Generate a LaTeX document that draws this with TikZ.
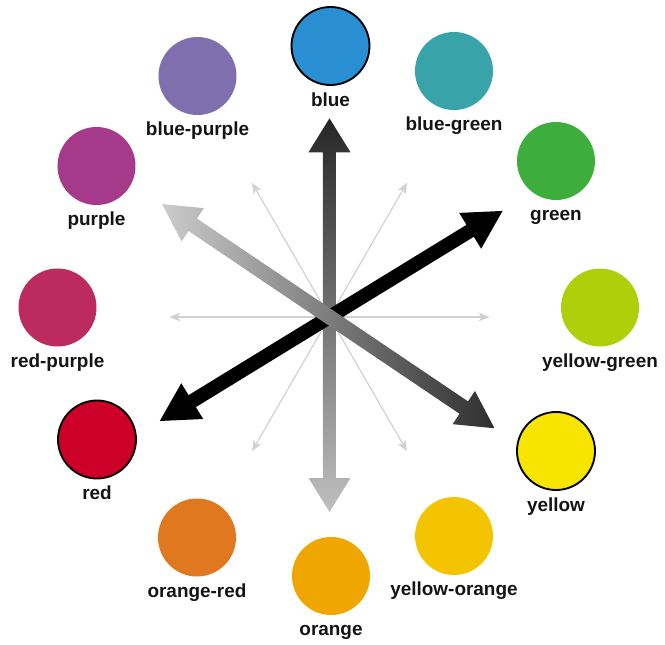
\documentclass[tikz,border=0pt]{standalone}
\usepackage{fontspec}
\setmainfont{Liberation Sans}
\usepackage{tikz}
\usetikzlibrary{arrows.meta, positioning, calc}
\definecolor{wheelblue}{RGB}{41, 143, 210}
\definecolor{wheelbluegreen}{RGB}{56, 164, 170}
\definecolor{wheelgreen}{RGB}{61, 174, 60}
\definecolor{wheelyellowgreen}{RGB}{174, 207, 10}
\definecolor{wheelyellow}{RGB}{247, 229, 0}
\definecolor{wheelyelloworange}{RGB}{245, 196, 0}
\definecolor{wheelorange}{RGB}{240, 166, 0}
\definecolor{wheelorangered}{RGB}{224, 120, 32}
\definecolor{wheelred}{RGB}{204, 0, 40}
\definecolor{wheelredpurple}{RGB}{188, 43, 94}
\definecolor{wheelpurple}{RGB}{165, 58, 138}
\definecolor{wheelbluepurple}{RGB}{127, 111, 174}

\begin{document}
\begin{tikzpicture}[
  x=0.75pt, y=0.75pt, font=\fontsize{14.2}{17}\selectfont\bfseries,
  swatch/.style={circle, minimum size=58.5pt, inner sep=0pt},
  primary/.style={swatch, draw=black, line width=1.4pt},
  colorname/.style={below=4.5pt of #1, inner sep=0pt, text height=10.5pt, text depth=3pt, text=black!92},
  spoke/.style={draw=black!18, line width=0.9pt},
  >={Stealth[length=8pt, width=6.5pt, inset=2pt]}
]
\useasboundingbox (-329.5,-327) rectangle (335.5,317);
\coordinate (hub) at (0,0);
% thin spokes
\foreach \a/\r in {0/160, 60/155, 120/155}
  \draw[spoke, <->] ([shift={(\a:\r)}]hub) -- ([shift={(\a+180:\r)}]hub);
% blue -- orange
\shade[top color=black!85, bottom color=black!25]
  (0,198.7) -- (21,164.7) -- (6.5,164.7) -- (6.5,-161) -- (21,-161) -- (0,-195)
  -- (-21,-161) -- (-6.5,-161) -- (-6.5,164.7) -- (-21,164.7) -- cycle;
% green -- red
\begin{scope}[shift={(hub)}, rotate=31.5]
  \fill[black] (203,0) -- (165,21) -- (165,7) -- (-161,7) -- (-161,21) -- (-199,0)
    -- (-161,-21) -- (-161,-7) -- (165,-7) -- (165,-21) -- cycle;
\end{scope}
% purple -- yellow
\begin{scope}[shift={(hub)}, rotate=-34]
  \shade[left color=black!20, right color=black!82] (199,0) -- (162,20) -- (162,7.5)
    -- (-165,7.5) -- (-165,20) -- (-202,0) -- (-165,-20) -- (-165,-7.5) -- (162,-7.5)
    -- (162,-20) -- cycle;
\end{scope}
% swatches
\node[primary, fill=wheelblue] (blue) at (1,271) {};
\node[swatch, fill=wheelbluegreen] (bluegreen) at (124.5,246) {};
\node[swatch, fill=wheelgreen] (green) at (226.5,156) {};
\node[swatch, fill=wheelyellowgreen] (yellowgreen) at (270.5,9.5) {};
\node[primary, fill=wheelyellow] (yellow) at (226.5,-134) {};
\node[swatch, fill=wheelyelloworange] (yelloworange) at (124.5,-219) {};
\node[swatch, fill=wheelorange] (orange) at (1.5,-259) {};
\node[swatch, fill=wheelorangered] (orangered) at (-132.5,-220.5) {};
\node[primary, fill=wheelred] (red) at (-232.5,-122.5) {};
\node[swatch, fill=wheelredpurple] (redpurple) at (-272,9.5) {};
\node[swatch, fill=wheelpurple] (purple) at (-233,151) {};
\node[swatch, fill=wheelbluepurple] (bluepurple) at (-132,241) {};
% names
\node[colorname=blue] (bluename) {blue};
\node[colorname=bluegreen] (bluegreenname) {blue-green};
\node[colorname=green] (greenname) {green};
\node[colorname=yellowgreen] (yellowgreenname) {yellow-green};
\node[colorname=yellow] (yellowname) {yellow};
\node[colorname=yelloworange] (yelloworangename) {yellow-orange};
\node[colorname=orange] (orangename) {orange};
\node[colorname=orangered] (orangeredname) {orange-red};
\node[colorname=red] (redname) {red};
\node[colorname=redpurple] (redpurplename) {red-purple};
\node[colorname=purple] (purplename) {purple};
\node[colorname=bluepurple] (bluepurplename) {blue-purple};
\end{tikzpicture}
\end{document}
